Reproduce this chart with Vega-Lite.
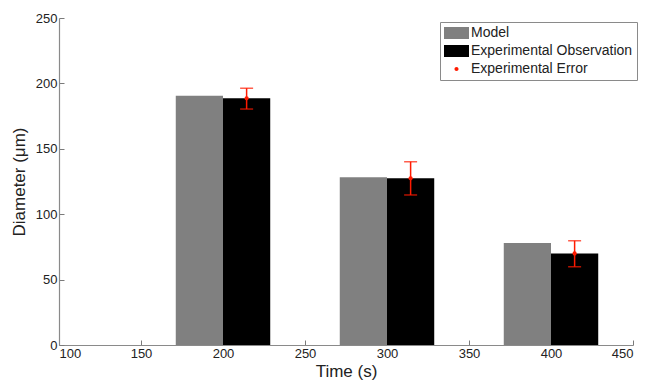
{
  "$schema": "https://vega.github.io/schema/vega-lite/v6.json",
  "width": 574,
  "height": 327,
  "autosize": "none",
  "padding": {"left": 59, "top": 18, "right": 29, "bottom": 35},
  "background": "white",
  "config": {
    "view": {"stroke": null},
    "font": "Liberation Sans",
    "axis": {
      "grid": false,
      "domainColor": "#8a8a8a",
      "domainWidth": 1.2,
      "ticks": true,
      "tickColor": "#7a7a7a",
      "tickWidth": 1,
      "tickSize": -5,
      "labelFont": "Liberation Sans",
      "labelFontSize": 13,
      "labelColor": "#222222",
      "titleFont": "Liberation Sans",
      "titleFontSize": 17,
      "titleFontWeight": "normal",
      "titleColor": "#222222"
    }
  },
  "data": {
    "values": [
      {"time": 200, "series": "Model", "start": 171.2, "end": 200, "value": 190.5},
      {"time": 200, "series": "Experimental Observation", "start": 200, "end": 228.8, "value": 188.6, "mid": 214.4, "lo": 180.4, "hi": 196.3},
      {"time": 300, "series": "Model", "start": 271.2, "end": 300, "value": 128.2},
      {"time": 300, "series": "Experimental Observation", "start": 300, "end": 328.8, "value": 127.4, "mid": 314.4, "lo": 114.7, "hi": 140.1},
      {"time": 400, "series": "Model", "start": 371.2, "end": 400, "value": 78.0},
      {"time": 400, "series": "Experimental Observation", "start": 400, "end": 428.8, "value": 70.0, "mid": 414.4, "lo": 59.8, "hi": 79.7}
    ]
  },
  "layer": [
    {
      "mark": {"type": "bar", "strokeWidth": 0},
      "encoding": {
        "x": {
          "field": "start", "type": "quantitative",
          "scale": {"domain": [100, 450], "nice": false, "zero": false},
          "axis": {"values": [100, 150, 200, 250, 300, 350, 400, 450], "title": "Time (s)", "labelPadding": 7, "titlePadding": 3}
        },
        "x2": {"field": "end"},
        "y": {
          "field": "value", "type": "quantitative",
          "scale": {"domain": [0, 250], "nice": false},
          "title": "Diameter (μm)",
          "axis": {"values": [0, 50, 100, 150, 200, 250], "labelPadding": 7, "titlePadding": 7}
        },
        "y2": {"datum": 0},
        "color": {
          "field": "series", "type": "nominal",
          "scale": {"domain": ["Model", "Experimental Observation", "Experimental Error"], "range": ["#808080", "#000000", "#ff1a00"]},
          "legend": {
            "title": null,
            "orient": "none",
            "legendX": 381,
            "legendY": 4,
            "direction": "vertical",
            "padding": 4,
            "strokeColor": "#8a8a8a",
            "fillColor": "white",
            "cornerRadius": 0,
            "symbolSize": 196,
            "symbolStrokeWidth": 0,
            "rowPadding": 4,
            "labelOffset": 13,
            "labelFont": "Liberation Sans",
            "labelFontSize": 14,
            "labelColor": "#222222",
            "labelLimit": 300,
            "encode": {
              "symbols": {
                "update": {
                  "shape": {"signal": "datum.value === 'Experimental Error' ? 'M0.786,-0.29A0.29,0.29,0,1,1,0.786,0.29A0.29,0.29,0,1,1,0.786,-0.29Z' : 'M-1,-0.857H2.571V0.857H-1Z'"},
                  "strokeWidth": {"value": 0}
                }
              }
            }
          }
        }
      }
    },
    {
      "transform": [{"filter": "datum.series === 'Experimental Observation'"}],
      "mark": {"type": "errorbar", "color": "#ff1a00", "thickness": 1.5, "ticks": {"size": 13, "thickness": 1.5}},
      "encoding": {
        "x": {"field": "mid", "type": "quantitative"},
        "y": {"field": "lo", "type": "quantitative", "title": "Diameter (μm)"},
        "y2": {"field": "hi"}
      }
    },
    {
      "transform": [{"filter": "datum.series === 'Experimental Observation'"}],
      "mark": {"type": "point", "filled": true, "color": "#ff1a00", "size": 18, "opacity": 1},
      "encoding": {
        "x": {"field": "mid", "type": "quantitative"},
        "y": {"field": "value", "type": "quantitative", "title": "Diameter (μm)"}
      }
    }
  ]
}
